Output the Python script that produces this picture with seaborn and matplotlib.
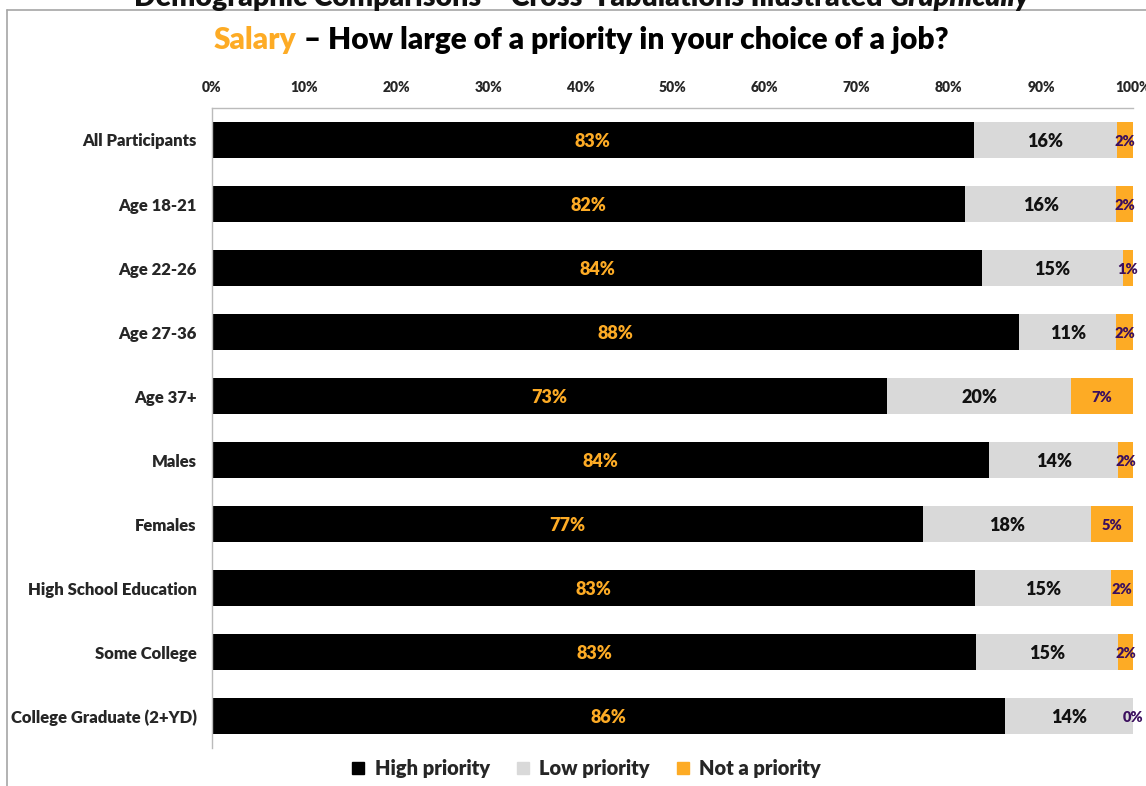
import matplotlib
matplotlib.use("Agg")
import matplotlib.pyplot as plt
from matplotlib.lines import Line2D
import seaborn as sns
import pandas as pd
import numpy as np

categories = ["All Participants", "Age 18-21", "Age 22-26", "Age 27-36", "Age 37+",
              "Males", "Females", "High School Education", "Some College",
              "College Graduate (2+YD)"]
high_priority = [82.7, 81.8, 83.6, 87.6, 73.3, 84.4, 77.2, 82.8, 83.0, 86.1]
low_priority = [15.6, 16.4, 15.3, 10.6, 20.0, 14.0, 18.2, 14.8, 15.4, 13.9]
not_priority = [1.7, 1.8, 1.1, 1.8, 6.7, 1.6, 4.6, 2.4, 1.6, 0.0]
series_names = ["High priority", "Low priority", "Not a priority"]
x_ticks = [0, 10, 20, 30, 40, 50, 60, 70, 80, 90, 100]

C_BLACK = "#000000"
C_GREY = "#D9D9D9"
C_ORANGE = "#FDAB25"
C_PURPLE = "#3B0F5E"

sns.set_theme(style="white")
FONT = ["Lato", "DejaVu Sans"]
plt.rcParams["font.family"] = FONT
W = "heavy"
plt.rcParams["font.weight"] = W

df = pd.DataFrame({"cat": categories, "high": high_priority,
                   "low": low_priority, "not": not_priority})
df["cum_low"] = df["high"] + df["low"]
df["cum_not"] = df["cum_low"] + df["not"]

fig = plt.figure(figsize=(11.46, 7.86), dpi=100)
ax = fig.add_axes([0.185, 0.0483, 0.9887 - 0.185, 0.8626 - 0.0483])

bw = 0.56
sns.barplot(data=df, y="cat", x="cum_not", color=C_ORANGE, width=bw, ax=ax,
            orient="h", linewidth=0, saturation=1)
sns.barplot(data=df, y="cat", x="cum_low", color=C_GREY, width=bw, ax=ax,
            orient="h", linewidth=0, saturation=1)
sns.barplot(data=df, y="cat", x="high", color=C_BLACK, width=bw, ax=ax,
            orient="h", linewidth=0, saturation=1)

for i, row in df.iterrows():
    ax.text(row["high"] / 2, i + 0.02, f"{row['high']:.0f}%", ha="center", va="center",
            color=C_ORANGE, fontsize=13, fontweight=W)
    ax.text(row["high"] + row["low"] / 2, i + 0.02, f"{row['low']:.0f}%", ha="center",
            va="center", color="#111111", fontsize=13, fontweight=W)
    ax.text(row["cum_low"] + row["not"] / 2, i + 0.02, f"{row['not']:.0f}%", ha="center",
            va="center", color=C_PURPLE, fontsize=10.5, fontweight=W)

ax.set_xlim(0, 100)
ax.set_ylim(len(categories) - 0.5, -0.5)
ax.set_xticks(x_ticks)
ax.set_xticklabels([f"{t}%" for t in x_ticks], fontsize=10, fontweight=W)
ax.xaxis.tick_top()
ax.tick_params(axis="x", length=0, pad=10)
ax.tick_params(axis="y", length=0, pad=11)
ax.set_yticks(range(len(categories)))
ax.set_yticklabels(categories, fontsize=12, fontweight=W)
ax.set_xlabel("")
ax.set_ylabel("")
for s in ["right", "bottom"]:
    ax.spines[s].set_visible(False)
for s in ["left", "top"]:
    ax.spines[s].set_color("#BBBBBB")
    ax.spines[s].set_linewidth(1)
ax.grid(False)

# Outer frame lines
fig.add_artist(Line2D([0.006, 0.006], [0.0, 0.987], color="#A6A6A6", lw=1.2,
                      transform=fig.transFigure))
fig.add_artist(Line2D([0.006, 1.0], [0.987, 0.987], color="#A6A6A6", lw=1.2,
                      transform=fig.transFigure))

fig.canvas.draw()
renderer = fig.canvas.get_renderer()

# Cut-off header title (normal + italic part)
h1 = fig.text(0, 1.003, "Demographic Comparisons – Cross-Tabulations Illustrated ",
              ha="left", va="center", fontsize=20.5, fontweight=W, color="#111111")
h2 = fig.text(0, 1.003, "Graphically", ha="left", va="center", fontsize=20.5,
              fontweight=W, fontstyle="italic", color="#111111")
hw1 = h1.get_window_extent(renderer).width
hw2 = h2.get_window_extent(renderer).width
hstart = 582 - (hw1 + hw2) / 2
h1.set_x(hstart / fig.bbox.width)
h2.set_x((hstart + hw1) / fig.bbox.width)

# Two-colour title
t1 = fig.text(0, 0.949, "Salary", ha="left", va="center", fontsize=21.5,
              fontweight=W, color=C_ORANGE)
t2 = fig.text(0, 0.949, " – How large of a priority in your choice of a job?",
              ha="left", va="center", fontsize=21.5, fontweight=W, color="#000000")
w1 = t1.get_window_extent(renderer).width
w2 = t2.get_window_extent(renderer).width
start = 581 - (w1 + w2) / 2
t1.set_x(start / fig.bbox.width)
t2.set_x((start + w1) / fig.bbox.width)

handles = [Line2D([], [], marker="s", linestyle="none", markersize=9,
                  markerfacecolor=c, markeredgecolor=c)
           for c in [C_BLACK, C_GREY, C_ORANGE]]
fig.legend(handles, series_names, loc="center", bbox_to_anchor=(0.511, 0.022),
           ncol=3, frameon=False, handlelength=0.8, handletextpad=0.4,
           columnspacing=1.25, prop={"weight": W, "size": 14.5})

fig.savefig("out.png", dpi=100)
